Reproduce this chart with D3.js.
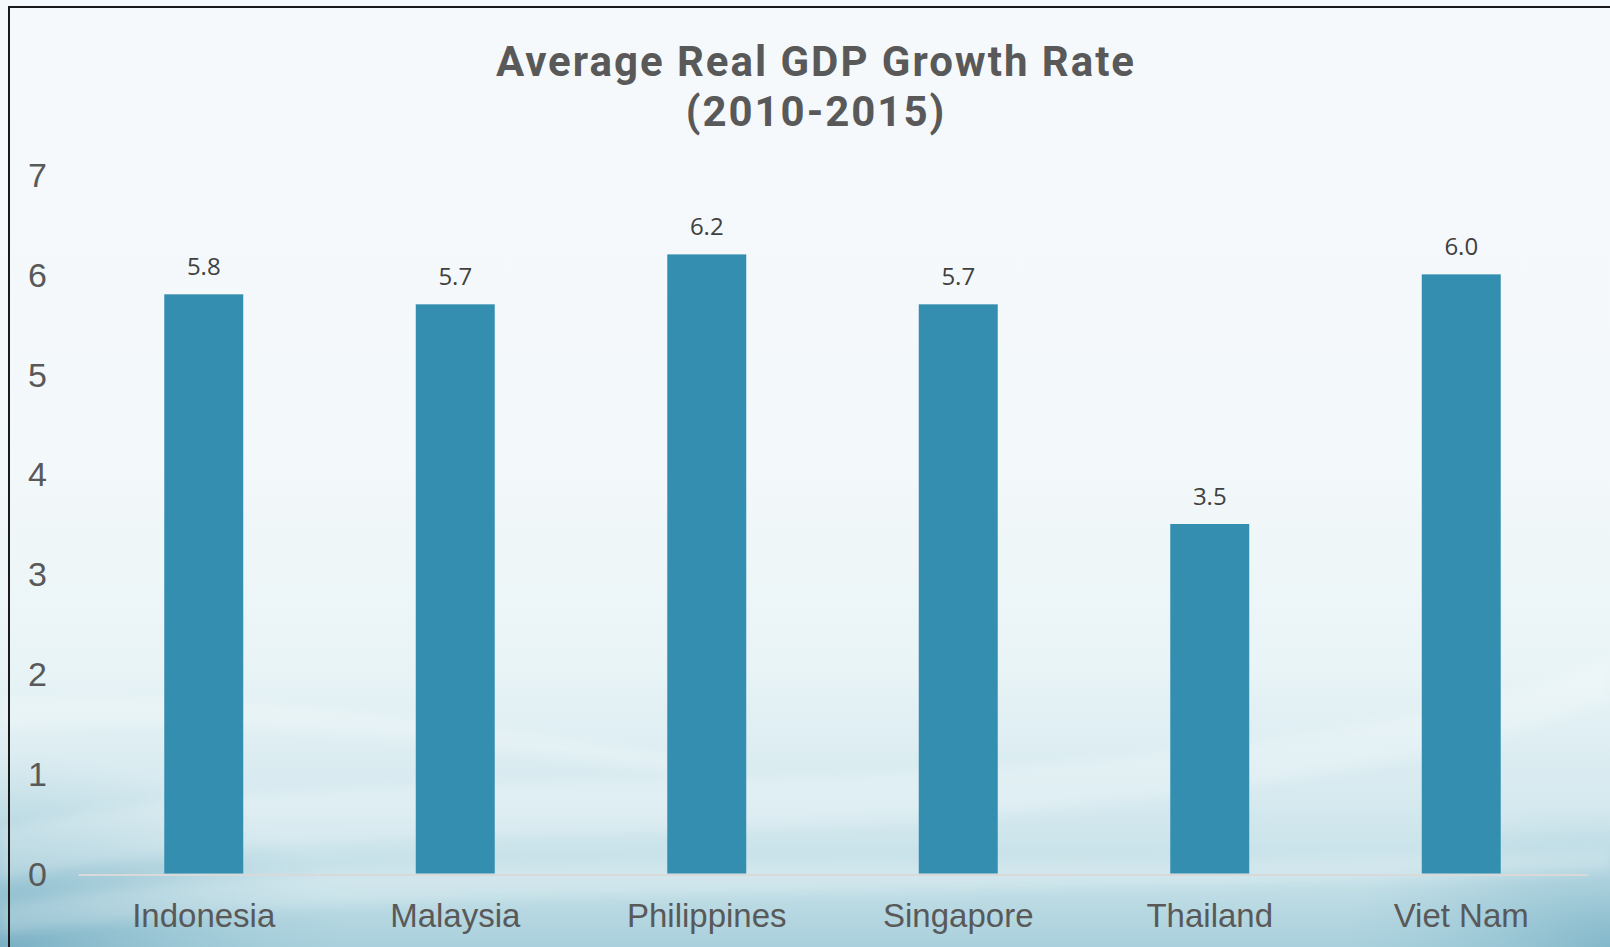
<!DOCTYPE html>
<html>
<head>
<meta charset="utf-8">
<script src="https://cdn.jsdelivr.net/npm/d3@7"></script>
<style>
  html, body { margin: 0; padding: 0; background: #f6f9fc; }
  svg { display: block; }
</style>
</head>
<body>
<svg id="chart" width="1610" height="947"></svg>
<script>
// Average real GDP growth, 2010-2015 (%)
const countries = ["Indonesia", "Malaysia", "Philippines", "Singapore", "Thailand", "Viet Nam"];
const growth = [5.8, 5.7, 6.2, 5.7, 3.5, 6.0];
const yTicks = [0, 1, 2, 3, 4, 5, 6, 7];
const titleLines = ["Average Real GDP Growth Rate", "(2010-2015)"];

const W = 1610, H = 947;
const svg = d3.select("#chart");
const defs = svg.append("defs");

// Backdrop: pale at the top, fading into a soft teal toward the bottom
const bg = defs.append("linearGradient").attr("id", "bgGrad")
  .attr("x1", 0).attr("y1", 0).attr("x2", 0).attr("y2", 1);
[[0, "#f6f9fc"], [0.5, "#f3f8fa"], [0.7, "#e9f4f6"], [0.85, "#d5e9ef"], [0.93, "#c3dfe7"], [1, "#a9d0dc"]]
  .forEach(([o, c]) => bg.append("stop").attr("offset", o).attr("stop-color", c));

const cornerL = defs.append("radialGradient").attr("id", "cornerL")
  .attr("cx", 0).attr("cy", 1).attr("r", 0.5);
cornerL.append("stop").attr("offset", 0).attr("stop-color", "#6fa9bf").attr("stop-opacity", 0.85);
cornerL.append("stop").attr("offset", 1).attr("stop-color", "#9cc8d6").attr("stop-opacity", 0);

const cornerR = defs.append("radialGradient").attr("id", "cornerR")
  .attr("cx", 1).attr("cy", 1).attr("r", 0.45);
cornerR.append("stop").attr("offset", 0).attr("stop-color", "#7ab2c6").attr("stop-opacity", 0.8);
cornerR.append("stop").attr("offset", 1).attr("stop-color", "#9cc8d6").attr("stop-opacity", 0);

const blurF = defs.append("filter").attr("id", "soft").attr("x", "-20%").attr("y", "-20%")
  .attr("width", "140%").attr("height", "140%");
blurF.append("feGaussianBlur").attr("stdDeviation", 6);

svg.append("rect").attr("width", W).attr("height", H).attr("fill", "url(#bgGrad)");
svg.append("rect").attr("x", 0).attr("y", 560).attr("width", 700).attr("height", 387)
  .attr("fill", "url(#cornerL)");
svg.append("rect").attr("x", 1010).attr("y", 640).attr("width", 600).attr("height", 307)
  .attr("fill", "url(#cornerR)");

// light swooshes across the lower part of the slide
const swooshes = [
  "M0,830 C300,760 700,800 1100,760 C1350,735 1500,700 1610,660 L1610,700 C1450,760 1250,790 1000,815 C650,845 300,820 0,880 Z",
  "M0,905 C400,840 900,880 1610,850 L1610,870 C900,905 400,880 0,935 Z",
  "M0,700 C250,690 450,720 700,760 L700,775 C450,740 250,715 0,730 Z"
];
svg.append("g").attr("filter", "url(#soft)")
  .selectAll("path").data(swooshes).join("path")
  .attr("d", d => d).attr("fill", "#ffffff").attr("opacity", 0.22);

// frame edges
svg.append("path").attr("d", `M9,${H} L9,7 L${W},7`)
  .attr("fill", "none").attr("stroke", "#1a1a1a").attr("stroke-width", 2);

// Scales
const x = d3.scaleBand().domain(countries).range([78, 1587])
  .paddingInner(0.686).paddingOuter(0.343);
const y = d3.scaleLinear().domain([0, 7]).range([873.5, 174.5]);

// y axis: tick numbers only
const yAxis = svg.append("g").call(d3.axisLeft(y).tickValues(yTicks).tickSize(0).tickFormat(d3.format("d")));
yAxis.select(".domain").remove();
yAxis.selectAll("text")
  .attr("x", 37.5).attr("dy", "0.35em").attr("text-anchor", "middle")
  .attr("fill", "#595959").style("font-family", "'Liberation Sans', Arial, sans-serif").style("font-size", "34px");

// Bars
svg.append("g").selectAll("rect").data(countries).join("rect")
  .attr("x", d => x(d))
  .attr("width", x.bandwidth())
  .attr("y", (d, i) => y(growth[i]))
  .attr("height", (d, i) => y(0) - y(growth[i]))
  .attr("fill", "#338eb0");

// x axis: baseline and country names
const xAxis = svg.append("g").attr("transform", `translate(0,${y(0) + 1})`)
  .call(d3.axisBottom(x).tickSize(0));
xAxis.select(".domain").attr("stroke", "#d9d9d9").attr("stroke-width", 2);
xAxis.selectAll("text")
  .attr("y", 52).attr("dy", null)
  .attr("fill", "#595959").style("font-family", "'Liberation Sans', Arial, sans-serif").style("font-size", "33px");

// Value labels
svg.append("g").selectAll("text").data(countries).join("text")
  .attr("x", d => x(d) + x.bandwidth() / 2)
  .attr("y", (d, i) => y(growth[i]) - 19)
  .attr("text-anchor", "middle")
  .attr("fill", "#404040")
  .style("font-family", "'Open Sans', 'Liberation Sans', sans-serif").style("font-size", "24px")
  .text((d, i) => d3.format(".1f")(growth[i]));

// Title, two centred lines; the first line is fitted to 638px wide
const title = svg.append("text").attr("text-anchor", "middle")
  .attr("fill", "#595959")
  .style("font-family", "Roboto, 'Liberation Sans', sans-serif")
  .style("font-weight", "bold").style("font-size", "42px");
const tspans = title.selectAll("tspan").data(titleLines).join("tspan")
  .attr("x", 816).attr("y", (d, i) => 76 + i * 50)
  .text(d => d);
const firstLen = tspans.nodes()[0].getComputedTextLength();
const spacing = (638 - firstLen) / (titleLines[0].length - 1);
title.style("letter-spacing", `${spacing.toFixed(2)}px`);
</script>
</body>
</html>
